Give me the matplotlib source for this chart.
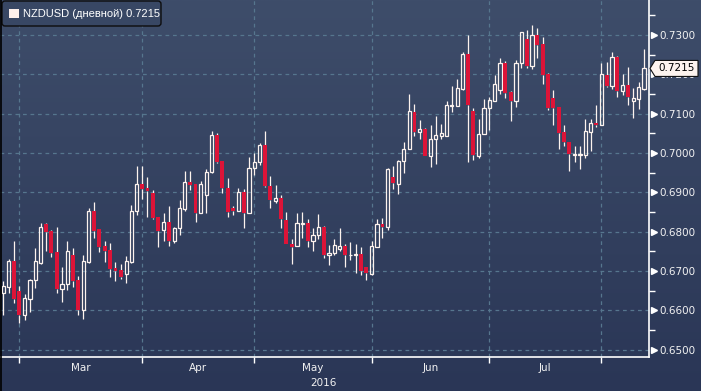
import numpy as np
import matplotlib
matplotlib.use("Agg")
import matplotlib.pyplot as plt
from matplotlib.patches import Rectangle, Polygon, FancyBboxPatch
from matplotlib.lines import Line2D
from matplotlib.transforms import IdentityTransform

# ---------------- data (NZDUSD daily, 25 Feb - 11 Aug 2016) ----------------
opens = [0.6643, 0.6660, 0.6725, 0.6649, 0.6587, 0.6630, 0.6677, 0.6721, 0.6820, 0.6802,
         0.6748, 0.6655, 0.6668, 0.6740, 0.6677, 0.6600, 0.6723, 0.6853, 0.6807, 0.6763,
         0.6753, 0.6707, 0.6702, 0.6692, 0.6723, 0.6852, 0.6921, 0.6911, 0.6898, 0.6836,
         0.6803, 0.6824, 0.6776, 0.6810, 0.6858, 0.6926, 0.6921, 0.6847, 0.6892, 0.6951,
         0.7046, 0.6980, 0.6911, 0.6860, 0.6853, 0.6902, 0.6847, 0.6961, 0.6978, 0.7021,
         0.6917, 0.6879, 0.6885, 0.6830, 0.6768, 0.6763, 0.6820, 0.6821, 0.6775, 0.6791,
         0.6811, 0.6740, 0.6745, 0.6757, 0.6763, 0.6740, 0.6742, 0.6742, 0.6711, 0.6692,
         0.6762, 0.6819, 0.6811, 0.6939, 0.6922, 0.6979, 0.7009, 0.7104, 0.7054, 0.7060,
         0.6993, 0.7035, 0.7044, 0.7042, 0.7119, 0.7120, 0.7162, 0.7252, 0.7107, 0.6993,
         0.7048, 0.7114, 0.7133, 0.7160, 0.7229, 0.7155, 0.7131, 0.7228, 0.7289, 0.7220,
         0.7299, 0.7278, 0.7202, 0.7140, 0.7117, 0.7053, 0.7029, 0.6995, 0.6995, 0.6995,
         0.7054, 0.7076, 0.7071, 0.7198, 0.7170, 0.7244, 0.7158, 0.7172, 0.7131, 0.7138,
         0.7163]
highs = [0.6674, 0.6730, 0.6776, 0.6661, 0.6641, 0.6679, 0.6758, 0.6822, 0.6822, 0.6804,
         0.6812, 0.6710, 0.6776, 0.6758, 0.6687, 0.6740, 0.6860, 0.6876, 0.6807, 0.6776,
         0.6771, 0.6723, 0.6717, 0.6738, 0.6868, 0.6967, 0.6967, 0.6939, 0.6906, 0.6838,
         0.6847, 0.6865, 0.6813, 0.6881, 0.6954, 0.6954, 0.6921, 0.6930, 0.6959, 0.7057,
         0.7052, 0.6980, 0.6936, 0.6866, 0.6910, 0.6909, 0.6991, 0.7001, 0.7026, 0.7057,
         0.6942, 0.6919, 0.6894, 0.6850, 0.6781, 0.6848, 0.6850, 0.6832, 0.6809, 0.6845,
         0.6814, 0.6766, 0.6781, 0.6809, 0.6768, 0.6773, 0.6768, 0.6760, 0.6711, 0.6776,
         0.6831, 0.6834, 0.6962, 0.6968, 0.6982, 0.7028, 0.7150, 0.7125, 0.7084, 0.7063,
         0.7071, 0.7094, 0.7074, 0.7132, 0.7170, 0.7188, 0.7257, 0.7300, 0.7115, 0.7087,
         0.7137, 0.7143, 0.7198, 0.7242, 0.7234, 0.7158, 0.7236, 0.7307, 0.7313, 0.7325,
         0.7318, 0.7295, 0.7204, 0.7159, 0.7117, 0.7070, 0.7029, 0.7018, 0.7018, 0.7087,
         0.7087, 0.7122, 0.7230, 0.7231, 0.7257, 0.7247, 0.7201, 0.7219, 0.7164, 0.7181,
         0.7264]
lows = [0.6587, 0.6644, 0.6619, 0.6568, 0.6575, 0.6596, 0.6657, 0.6717, 0.6751, 0.6736,
        0.6644, 0.6621, 0.6652, 0.6660, 0.6587, 0.6579, 0.6721, 0.6784, 0.6749, 0.6723,
        0.6685, 0.6674, 0.6679, 0.6670, 0.6720, 0.6843, 0.6883, 0.6838, 0.6833, 0.6762,
        0.6776, 0.6764, 0.6772, 0.6792, 0.6853, 0.6906, 0.6825, 0.6847, 0.6848, 0.6948,
        0.6974, 0.6899, 0.6838, 0.6842, 0.6853, 0.6810, 0.6847, 0.6944, 0.6970, 0.6913,
        0.6861, 0.6874, 0.6810, 0.6768, 0.6718, 0.6763, 0.6785, 0.6760, 0.6750, 0.6782,
        0.6732, 0.6714, 0.6740, 0.6750, 0.6709, 0.6729, 0.6696, 0.6691, 0.6678, 0.6689,
        0.6762, 0.6785, 0.6804, 0.6908, 0.6895, 0.6948, 0.7009, 0.7042, 0.7035, 0.6993,
        0.6965, 0.6971, 0.7035, 0.7042, 0.7103, 0.7120, 0.7160, 0.6976, 0.6983, 0.6988,
        0.7048, 0.7059, 0.7133, 0.7150, 0.7141, 0.7082, 0.7118, 0.7215, 0.7217, 0.7214,
        0.7241, 0.7175, 0.7110, 0.7070, 0.7011, 0.7019, 0.6955, 0.6978, 0.6960, 0.6987,
        0.7005, 0.7065, 0.7071, 0.7168, 0.7163, 0.7143, 0.7147, 0.7122, 0.7090, 0.7112,
        0.7160]
closes = [0.6661, 0.6725, 0.6628, 0.6587, 0.6631, 0.6677, 0.6725, 0.6812, 0.6800, 0.6746,
          0.6655, 0.6668, 0.6751, 0.6675, 0.6600, 0.6725, 0.6853, 0.6802, 0.6761, 0.6751,
          0.6705, 0.6700, 0.6684, 0.6725, 0.6853, 0.6921, 0.6909, 0.6904, 0.6834, 0.6802,
          0.6824, 0.6776, 0.6809, 0.6859, 0.6925, 0.6919, 0.6847, 0.6921, 0.6951, 0.7046,
          0.6978, 0.6912, 0.6851, 0.6853, 0.6900, 0.6847, 0.6961, 0.6976, 0.7020, 0.6915,
          0.6880, 0.6885, 0.6832, 0.6768, 0.6760, 0.6821, 0.6822, 0.6775, 0.6791, 0.6811,
          0.6740, 0.6745, 0.6765, 0.6763, 0.6740, 0.6741, 0.6743, 0.6700, 0.6694, 0.6763,
          0.6819, 0.6811, 0.6959, 0.6923, 0.6979, 0.7009, 0.7106, 0.7054, 0.7060, 0.6993,
          0.7035, 0.7046, 0.7050, 0.7121, 0.7121, 0.7164, 0.7252, 0.7123, 0.6996, 0.7048,
          0.7114, 0.7135, 0.7175, 0.7229, 0.7153, 0.7131, 0.7229, 0.7307, 0.7220, 0.7299,
          0.7275, 0.7199, 0.7115, 0.7115, 0.7052, 0.7027, 0.6997, 0.6998, 0.6997, 0.7056,
          0.7076, 0.7071, 0.7201, 0.7170, 0.7244, 0.7158, 0.7172, 0.7143, 0.7139, 0.7167,
          0.7215]

month_labels = ["Mar", "Apr", "May", "Jun", "Jul"]
month_start_idx = [3, 26, 47, 69, 91, 112]   # first trading day of Mar..Aug
year_label = "2016"
y_ticks = [0.65, 0.66, 0.67, 0.68, 0.69, 0.70, 0.71, 0.72, 0.73]
last_price = 0.7215
legend_text = "NZDUSD (дневной) 0.7215"

# ---------------- styling ----------------
W, H = 701, 391
UP = "#fdf3ee"
DOWN = "#dc1438"
GRID = "#56768e"
TXT = "#f2f2f2"

fig = plt.figure(figsize=(W / 100, H / 100), dpi=100)

# gradient background
bg = fig.add_axes([0, 0, 1, 1], zorder=-10)
top = np.array([62, 77, 106]) / 255.0
bot = np.array([42, 54, 86]) / 255.0
t = np.linspace(0, 1, 256)[:, None]
grad = (top[None, :] * (1 - t) + bot[None, :] * t)[:, None, :]
grad = np.repeat(grad, 2, axis=1)
bg.imshow(grad, aspect="auto", extent=[0, 1, 0, 1], interpolation="bilinear")
bg.set_axis_off()

ax_left, ax_right, ax_bottom, ax_top = 0, 649, 357, 0  # pixels (top-origin y)
ax = fig.add_axes([ax_left / W, (H - ax_bottom) / H, (ax_right - ax_left) / W,
                   (ax_bottom - ax_top) / H])
ax.set_facecolor("none")

px_per_idx = 5.34
x0_px = 3.3
ax.set_xlim(-x0_px / px_per_idx, (ax_right - x0_px) / px_per_idx)
ppu = 3933.0
ax.set_ylim(0.73 - (ax_bottom - 35) / ppu, 0.73 + 35 / ppu)

n = len(opens)
x = np.arange(n)
body_w_up = 0.6
body_w_dn = 0.72
min_h = 0.00022
for i in range(n):
    o, h, l, c = opens[i], highs[i], lows[i], closes[i]
    up = c >= o
    btop, bbot = max(o, c), min(o, c)
    if btop - bbot < min_h:
        mid = (btop + bbot) / 2
        btop, bbot = mid + min_h / 2, mid - min_h / 2
    ax.plot([i, i], [btop, h], color=UP, lw=0.9, solid_capstyle="butt", zorder=3)
    ax.plot([i, i], [l, bbot], color=UP, lw=0.9, solid_capstyle="butt", zorder=3)
    if up:
        ax.add_patch(Rectangle((i - body_w_up / 2, bbot), body_w_up, btop - bbot,
                               facecolor="none", edgecolor=UP, lw=0.9, zorder=4))
    else:
        ax.add_patch(Rectangle((i - body_w_dn / 2, bbot), body_w_dn, btop - bbot,
                               facecolor=DOWN, edgecolor="none", lw=0, zorder=4))

# grid
for yv in y_ticks:
    ax.axhline(yv, color=GRID, lw=0.9, ls=(0, (3, 3)), zorder=1)
for xv in month_start_idx:
    ax.axvline(xv, color=GRID, lw=0.9, ls=(0, (3, 3)), zorder=1)

# spines
for s in ["left", "top"]:
    ax.spines[s].set_visible(False)
for s in ["right", "bottom"]:
    ax.spines[s].set_color("white")
    ax.spines[s].set_linewidth(1.2)

# y axis on the right
ax.yaxis.tick_right()
ax.set_yticks(y_ticks)
ax.set_yticklabels([f"{v:.4f}" for v in y_ticks])
ax.set_yticks([v + 0.005 for v in y_ticks], minor=True)
ax.tick_params(axis="y", which="major", length=0, pad=7.5, labelsize=7.5,
               labelcolor=TXT)
ax.tick_params(axis="y", which="minor", length=4, width=1, color="white",
               direction="out")
ax.plot([1.0075] * len(y_ticks), y_ticks, ls="none", marker=">", ms=5,
        color="white", transform=ax.get_yaxis_transform(), clip_on=False, zorder=6)

# x axis
ax.set_xticks(month_start_idx)
ax.set_xticklabels([""] * len(month_start_idx))
mids = [(month_start_idx[k] + month_start_idx[k + 1]) / 2 for k in range(len(month_labels))]
ax.set_xticks(mids, minor=True)
ax.set_xticklabels(month_labels, minor=True)
ax.tick_params(axis="x", which="major", length=4, width=1, color="white", direction="out")
ax.tick_params(axis="x", which="minor", length=0, pad=4, labelsize=7.5, labelcolor=TXT)
ax.text((n - 1) / 2, -26 / (ax_bottom - ax_top), year_label, transform=ax.get_xaxis_transform(),
        ha="center", va="center", fontsize=7.5, color=TXT)

# current price tag
ypix = ax.transData.transform((0, last_price))[1]
tag = Polygon([(650, ypix), (655, ypix + 8), (698, ypix + 8), (698, ypix - 8), (655, ypix - 8)],
              closed=True, facecolor="#fdf3ee", edgecolor="#111111", lw=0.8,
              transform=IdentityTransform(), zorder=10)
fig.add_artist(tag)
fig.text(677 / W, ypix / H, f"{last_price:.4f}", ha="center", va="center",
         fontsize=7.5, color="black", zorder=11)

# legend box
leg = FancyBboxPatch((2, H - 26), 159, 25, boxstyle="round,pad=0,rounding_size=3",
                     facecolor="#384764", edgecolor="#0d0d0d", lw=1.0,
                     transform=IdentityTransform(), zorder=10)
fig.add_artist(leg)
sq = Rectangle((9, H - 18), 10, 9, facecolor="#fdf0ec", edgecolor="none",
               transform=IdentityTransform(), zorder=11)
fig.add_artist(sq)
fig.text(23 / W, (H - 14) / H, legend_text, ha="left", va="center", fontsize=8,
         family=["Liberation Sans", "DejaVu Sans"], color="white", zorder=12)

# black left border
fig.add_artist(Line2D([0.7 / W, 0.7 / W], [0, 1], color="black", lw=1.2,
                      transform=fig.transFigure, zorder=20))

fig.savefig("out.png", dpi=100)
